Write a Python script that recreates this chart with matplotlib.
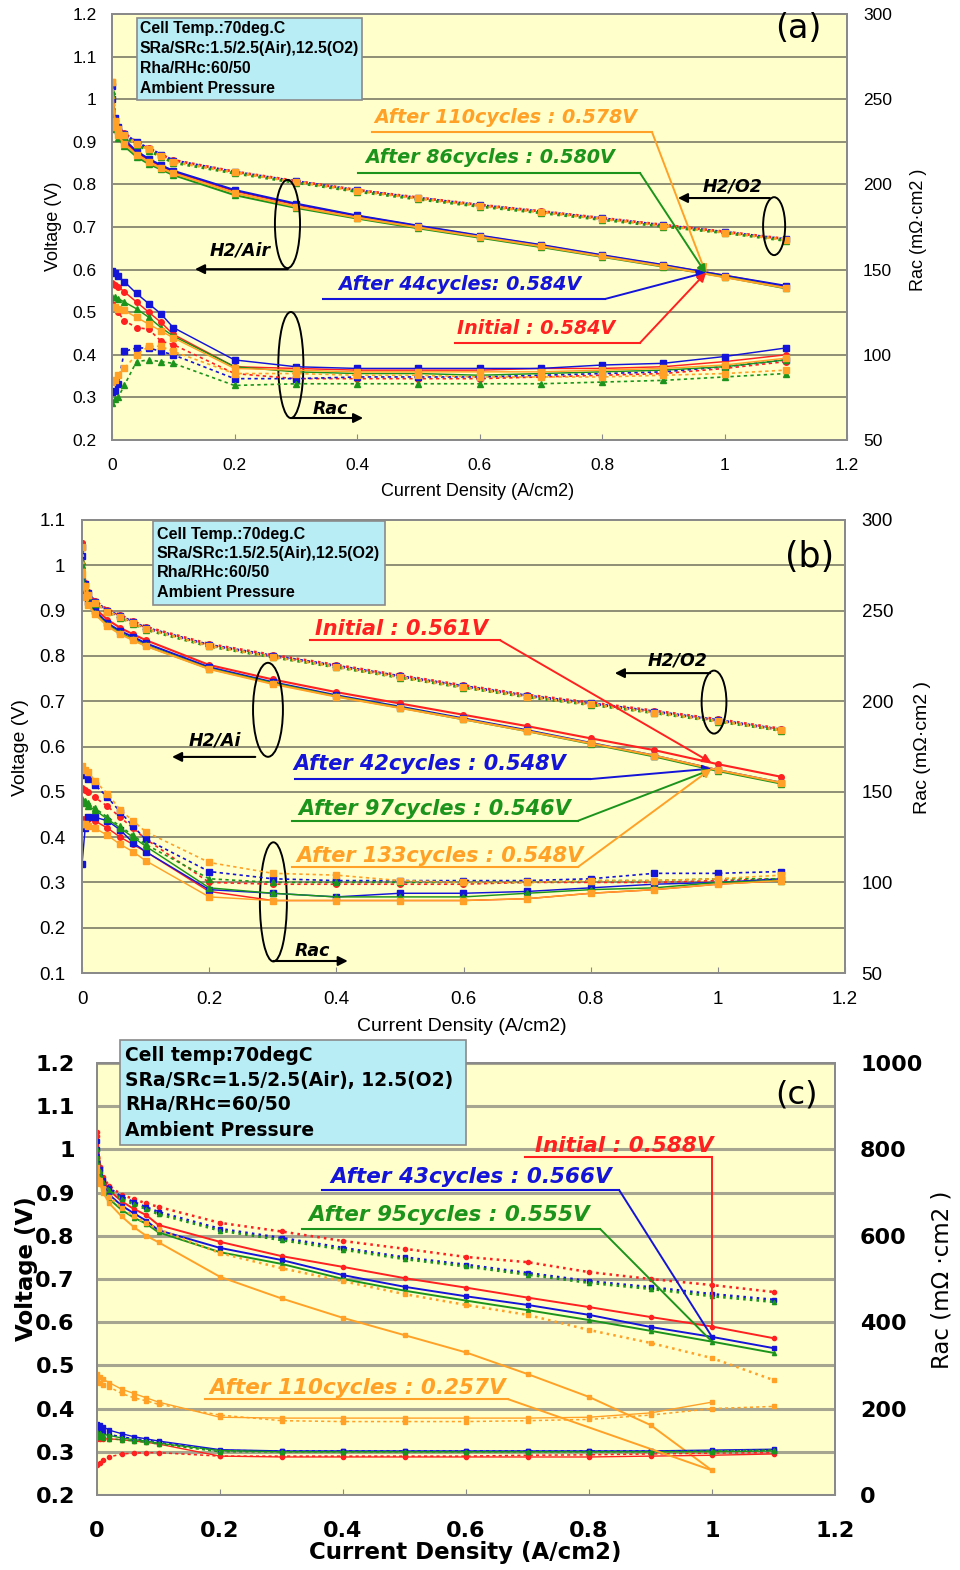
import numpy as np
import matplotlib
matplotlib.use("Agg")
import matplotlib.pyplot as plt
from matplotlib.patches import Ellipse, Rectangle
from matplotlib.ticker import FuncFormatter

plt.rcParams['font.family'] = ['DejaVu Sans']

# current density points (A/cm2), same for every run
current = [0, 0.005, 0.01, 0.02, 0.04, 0.06, 0.08, 0.1, 0.2, 0.3, 0.4, 0.5, 0.6, 0.7, 0.8, 0.9, 1.0, 1.1]

# (a) voltages (V): H2/Air and H2/O2, order = initial, 44, 86, 110 cycles
a_air_red = [1.03, 0.94, 0.92, 0.90, 0.875, 0.858, 0.843, 0.830, 0.785, 0.753, 0.726, 0.702, 0.679, 0.657, 0.633, 0.610, 0.586, 0.560]
a_air_blue = [1.00, 0.945, 0.925, 0.905, 0.878, 0.860, 0.845, 0.832, 0.787, 0.755, 0.727, 0.703, 0.680, 0.658, 0.634, 0.611, 0.586, 0.562]
a_air_green = [1.02, 0.930, 0.910, 0.890, 0.865, 0.848, 0.835, 0.822, 0.775, 0.745, 0.720, 0.697, 0.675, 0.653, 0.630, 0.607, 0.583, 0.556]
a_air_orange = [1.04, 0.935, 0.915, 0.895, 0.870, 0.852, 0.838, 0.826, 0.780, 0.748, 0.722, 0.699, 0.677, 0.655, 0.631, 0.608, 0.582, 0.557]
a_o2_red = [1.04, 0.955, 0.935, 0.920, 0.900, 0.885, 0.870, 0.857, 0.830, 0.808, 0.787, 0.769, 0.752, 0.737, 0.721, 0.705, 0.689, 0.672]
a_o2_blue = [1.03, 0.955, 0.935, 0.918, 0.899, 0.884, 0.870, 0.856, 0.829, 0.807, 0.786, 0.768, 0.751, 0.736, 0.720, 0.704, 0.688, 0.671]
a_o2_green = [1.01, 0.945, 0.928, 0.912, 0.893, 0.879, 0.865, 0.851, 0.826, 0.804, 0.783, 0.765, 0.748, 0.733, 0.717, 0.701, 0.686, 0.668]
a_o2_orange = [1.04, 0.950, 0.930, 0.915, 0.896, 0.882, 0.867, 0.853, 0.828, 0.806, 0.785, 0.767, 0.750, 0.735, 0.719, 0.703, 0.687, 0.670]
# (a) Rac (mOhm cm2)
a_rac_air_red = [142, 141, 140, 137, 131, 125, 119, 112, 93, 92, 91, 91, 91, 92, 92, 93, 96, 100]
a_rac_air_blue = [149, 148, 146, 143, 136, 130, 124, 116, 97, 93, 92, 92, 92, 92, 94, 95, 99, 104]
a_rac_air_green = [134, 134, 133, 131, 127, 122, 116, 111, 93, 90, 89, 89, 88, 89, 90, 91, 93, 97]
a_rac_air_orange = [128, 128, 127, 126, 122, 118, 114, 110, 92, 91, 90, 90, 90, 90, 91, 92, 94, 98]
a_rac_o2_red = [130, 128, 125, 120, 116, 115, 108, 106, 89, 86, 86, 86, 86, 87, 88, 89, 92, 96]
a_rac_o2_blue = [78, 79, 83, 102, 104, 104, 102, 100, 86, 86, 87, 87, 87, 88, 89, 90, 93, 97]
a_rac_o2_green = [72, 74, 75, 82, 96, 97, 96, 95, 82, 83, 83, 83, 83, 83, 84, 85, 87, 89]
a_rac_o2_orange = [84, 85, 88, 92, 100, 105, 105, 102, 89, 89, 88, 88, 87, 87, 87, 88, 89, 91]

# (b) initial, 42, 97, 133 cycles
b_air_red = [1.05, 0.950, 0.925, 0.905, 0.880, 0.862, 0.848, 0.835, 0.780, 0.748, 0.720, 0.695, 0.670, 0.645, 0.618, 0.592, 0.561, 0.533]
b_air_blue = [1.02, 0.940, 0.920, 0.900, 0.872, 0.855, 0.842, 0.828, 0.775, 0.742, 0.713, 0.688, 0.662, 0.636, 0.608, 0.580, 0.548, 0.520]
b_air_green = [1.00, 0.935, 0.915, 0.895, 0.868, 0.850, 0.837, 0.823, 0.772, 0.740, 0.711, 0.686, 0.660, 0.634, 0.606, 0.578, 0.546, 0.518]
b_air_orange = [0.98, 0.930, 0.912, 0.893, 0.866, 0.848, 0.835, 0.822, 0.771, 0.738, 0.710, 0.685, 0.660, 0.634, 0.607, 0.580, 0.548, 0.520]
b_o2_red = [1.05, 0.960, 0.940, 0.922, 0.902, 0.890, 0.877, 0.864, 0.826, 0.802, 0.780, 0.757, 0.735, 0.714, 0.697, 0.679, 0.660, 0.639]
b_o2_blue = [1.04, 0.958, 0.938, 0.920, 0.900, 0.888, 0.875, 0.862, 0.824, 0.800, 0.778, 0.755, 0.733, 0.712, 0.695, 0.677, 0.658, 0.637]
b_o2_green = [1.01, 0.952, 0.932, 0.915, 0.896, 0.884, 0.871, 0.858, 0.821, 0.797, 0.775, 0.752, 0.730, 0.709, 0.692, 0.674, 0.655, 0.635]
b_o2_orange = [1.04, 0.955, 0.935, 0.917, 0.898, 0.886, 0.873, 0.860, 0.822, 0.798, 0.776, 0.753, 0.731, 0.710, 0.693, 0.675, 0.656, 0.636]
b_rac_air_red = [135, 135, 135, 134, 130, 125, 121, 117, 95, 90, 90, 90, 90, 91, 94, 96, 99, 101]
b_rac_air_blue = [110, 130, 136, 136, 134, 129, 122, 117, 96, 94, 92, 94, 94, 95, 97, 99, 100, 102]
b_rac_air_green = [145, 144, 142, 140, 135, 130, 125, 120, 97, 94, 92, 92, 92, 94, 96, 97, 100, 101]
b_rac_air_orange = [132, 132, 131, 130, 126, 121, 117, 112, 92, 90, 90, 90, 90, 91, 94, 96, 99, 101]
b_rac_o2_red = [152, 151, 150, 147, 142, 136, 130, 124, 100, 99, 99, 99, 99, 100, 100, 100, 101, 102]
b_rac_o2_blue = [160, 159, 157, 154, 147, 139, 131, 124, 106, 102, 101, 101, 101, 101, 102, 105, 105, 106]
b_rac_o2_green = [146, 145, 144, 141, 136, 131, 126, 121, 102, 100, 100, 100, 100, 100, 101, 101, 102, 102]
b_rac_o2_orange = [164, 162, 161, 156, 149, 140, 134, 128, 111, 105, 104, 101, 100, 100, 101, 101, 102, 104]

# (c) initial, 43, 95, 110 cycles
c_air_red = [1.04, 0.960, 0.930, 0.905, 0.880, 0.862, 0.848, 0.825, 0.786, 0.753, 0.728, 0.702, 0.680, 0.657, 0.635, 0.612, 0.590, 0.563]
c_air_blue = [1.00, 0.950, 0.920, 0.895, 0.870, 0.852, 0.835, 0.813, 0.772, 0.744, 0.709, 0.682, 0.660, 0.640, 0.617, 0.589, 0.566, 0.540]
c_air_green = [0.98, 0.940, 0.910, 0.885, 0.860, 0.842, 0.828, 0.808, 0.762, 0.735, 0.700, 0.673, 0.650, 0.628, 0.605, 0.580, 0.555, 0.529]
c_air_orange = [0.96, 0.920, 0.900, 0.875, 0.845, 0.820, 0.800, 0.785, 0.705, 0.655, 0.610, 0.570, 0.530, 0.480, 0.427, 0.362, 0.257, np.nan]
c_o2_red = [1.03, 0.960, 0.935, 0.915, 0.895, 0.885, 0.875, 0.867, 0.830, 0.810, 0.788, 0.770, 0.751, 0.739, 0.716, 0.700, 0.686, 0.670]
c_o2_blue = [1.02, 0.955, 0.930, 0.910, 0.890, 0.878, 0.866, 0.855, 0.816, 0.795, 0.772, 0.750, 0.733, 0.714, 0.695, 0.681, 0.665, 0.652]
c_o2_green = [1.00, 0.950, 0.925, 0.905, 0.885, 0.873, 0.862, 0.850, 0.812, 0.790, 0.768, 0.746, 0.729, 0.710, 0.691, 0.677, 0.660, 0.647]
c_o2_orange = [0.95, 0.930, 0.910, 0.890, 0.865, 0.845, 0.830, 0.815, 0.760, 0.725, 0.695, 0.665, 0.640, 0.617, 0.582, 0.552, 0.517, 0.466]
c_rac_air_red = [130, 130, 130, 130, 128, 125, 122, 118, 90, 88, 88, 88, 88, 88, 88, 90, 92, 95]
c_rac_air_blue = [165, 162, 158, 150, 142, 135, 130, 125, 105, 102, 102, 102, 102, 102, 102, 102, 104, 106]
c_rac_air_green = [145, 143, 140, 138, 132, 128, 125, 120, 103, 100, 100, 100, 100, 100, 100, 100, 100, 102]
c_rac_air_orange = [280, 272, 268, 260, 245, 235, 225, 215, 180, 178, 178, 178, 178, 178, 180, 190, 215, np.nan]
c_rac_o2_red = [70, 75, 80, 88, 95, 97, 98, 98, 90, 90, 90, 90, 90, 92, 93, 95, 97, 98]
c_rac_o2_blue = [155, 150, 145, 140, 135, 130, 128, 122, 103, 102, 102, 102, 102, 102, 102, 102, 102, 103]
c_rac_o2_green = [135, 135, 133, 130, 128, 125, 122, 118, 100, 100, 100, 100, 100, 100, 100, 100, 102, 104]
c_rac_o2_orange = [265, 260, 255, 250, 235, 225, 218, 210, 185, 172, 170, 170, 170, 172, 175, 185, 200, 205]

info_ab = ["Cell Temp.:70deg.C", "SRa/SRc:1.5/2.5(Air),12.5(O2)", "Rha/RHc:60/50", "Ambient Pressure"]
info_c = ["Cell temp:70degC", "SRa/SRc=1.5/2.5(Air), 12.5(O2)", "RHa/RHc=60/50", "Ambient Pressure"]

RED = '#ff2020'
BLUE = '#1414d8'
GREEN = '#1c941c'
ORANGE = '#ffa126'
COLORS = [RED, BLUE, GREEN, ORANGE]
MARKERS = ['o', 's', '^', 's']
BG = '#ffffcc'
BOX = '#b9edf6'
SPINE = '#8a8a8a'
LIB = 'Liberation Sans'

fig = plt.figure(figsize=(9.6, 15.7), dpi=100)
fmt = FuncFormatter(lambda v, p: f"{round(v, 2):g}")


def panel(rect, vlim, rlim, rstep, font, size, weight, pads, grid_color, grid_lw):
    ax = fig.add_axes(rect)
    ax.set_facecolor(BG)
    ax.set_xlim(0, 1.2)
    ax.set_ylim(vlim)
    ax.set_xticks(np.arange(0, 1.21, 0.2))
    ax.set_yticks(np.arange(vlim[0], vlim[1] + 0.01, 0.1))
    ax.xaxis.set_major_formatter(fmt)
    ax.yaxis.set_major_formatter(fmt)
    ax.grid(axis='y', color=grid_color, lw=grid_lw)
    ax.set_axisbelow(True)
    ax.tick_params(axis='x', direction='in', length=4, color=SPINE, pad=pads[0])
    ax.tick_params(axis='y', length=0, pad=pads[1])
    rax = ax.twinx()
    rax.set_ylim(rlim)
    rax.set_yticks(np.arange(rlim[0], rlim[1] + 1, rstep))
    rax.tick_params(axis='y', length=0, pad=pads[2])
    for a in (ax, rax):
        for s in a.spines.values():
            s.set_color(SPINE)
            s.set_linewidth(1.4)
    for lab in ax.get_xticklabels() + ax.get_yticklabels() + rax.get_yticklabels():
        lab.set_fontfamily(font)
        lab.set_fontsize(size)
        lab.set_fontweight(weight)
    return ax, rax


def draw_runs(ax, rax, v_air, v_o2, r_air, r_o2, ms, lw):
    for va, vo, ra, ro, c, m in zip(v_air, v_o2, r_air, r_o2, COLORS, MARKERS):
        rax.plot(current, ra, color=c, lw=lw * 0.7, marker=m, ms=ms)
        rax.plot(current, ro, color=c, lw=lw * 0.8, ls=(0, (2, 2)), marker=m, ms=ms)
        ax.plot(current, vo, color=c, lw=lw * 1.3, ls=':', marker=m, ms=ms)
        ax.plot(current, va, color=c, lw=lw, marker=m, ms=ms)


def info_box(rax, lines, x0, x1, y0, y1, xt, ys, font, size):
    rax.add_patch(Rectangle((x0, y0), x1 - x0, y1 - y0, transform=rax.transAxes, fc=BOX,
                            ec=SPINE, lw=1.2, clip_on=False, zorder=5))
    for line, y in zip(lines, ys):
        rax.text(xt, y, line, transform=rax.transAxes, fontfamily=font, fontsize=size,
                 fontweight='bold', va='center', ha='left', zorder=6)


def callout(ax, rax, text, color, size, text_xy, x0, x1, y_line, target, head=True):
    rax.text(text_xy[0], text_xy[1], text, transform=ax.transData, color=color, fontsize=size,
             fontweight='bold', style='italic', ha='center', va='center')
    rax.plot([x0, x1], [y_line, y_line], color=color, lw=1.5, transform=ax.transData)
    rax.annotate('', xy=target, xytext=(x1, y_line), xycoords=ax.transData,
                 arrowprops=dict(arrowstyle='-|>' if head else '-', color=color, lw=1.4,
                                 mutation_scale=13, shrinkA=0, shrinkB=0))


def ring(ax, rax, xy, w, h):
    rax.add_patch(Ellipse(xy, w, h, transform=ax.transData, fill=False, ec='black', lw=1.4))


def pointer(ax, rax, label, label_xy, start, end, size):
    rax.annotate('', xy=end, xytext=start, xycoords=ax.transData,
                 arrowprops=dict(arrowstyle='-|>', color='black', lw=1.5, mutation_scale=14,
                                 shrinkA=0, shrinkB=0))
    rax.text(label_xy[0], label_xy[1], label, transform=ax.transData, fontsize=size,
             fontweight='bold', style='italic', ha='center', va='center')


def axis_labels(ax, rax, font, size, weight, rac_label, xpos, ypos, rpos, rweight):
    ax.set_xlabel('Current Density (A/cm2)', fontfamily=font, fontsize=size, fontweight=weight, va='center')
    ax.xaxis.set_label_coords(*xpos)
    ax.set_ylabel('Voltage (V)', fontfamily=font, fontsize=size, fontweight=weight, va='center', ha='center')
    ax.yaxis.set_label_coords(*ypos)
    rax.set_ylabel(rac_label, fontfamily=font, fontsize=size, fontweight=rweight, va='center',
                   ha='center', rotation=90)
    rax.yaxis.set_label_coords(*rpos)


# ---------------- (a) ----------------
ax_a, r_a = panel([112 / 960, 1 - 440 / 1570, 735 / 960, 426 / 1570], (0.2, 1.2), (50, 300), 50,
                  LIB, 12.5, 'normal', (13, 11, 11.5), '#7c7c66', 1.2)
draw_runs(ax_a, r_a,
          [a_air_red, a_air_blue, a_air_green, a_air_orange],
          [a_o2_red, a_o2_blue, a_o2_green, a_o2_orange],
          [a_rac_air_red, a_rac_air_blue, a_rac_air_green, a_rac_air_orange],
          [a_rac_o2_red, a_rac_o2_blue, a_rac_o2_green, a_rac_o2_orange], 4, 1.5)
axis_labels(ax_a, r_a, LIB, 13, 'normal', 'Rac (mΩ·cm2 )', (0.498, -0.12), (-0.079, 0.502),
            (1.097, 0.493), 'normal')
info_box(r_a, info_ab, 0.034, 0.340, 0.798, 0.991, 0.038, [0.965, 0.918, 0.871, 0.824], LIB, 11.3)
r_a.text(1.12, 1.167, '(a)', transform=ax_a.transData, fontsize=24, ha='center', va='center')

tx = 0.97
callout(ax_a, r_a, 'After 110cycles : 0.578V', ORANGE, 13.8, (0.643, 0.958), 0.4245, 0.8816, 0.923,
        (tx, np.interp(tx, current, a_air_orange)))
callout(ax_a, r_a, 'After 86cycles : 0.580V', GREEN, 13.8, (0.617, 0.862), 0.4016, 0.862, 0.827,
        (tx, np.interp(tx, current, a_air_green)))
callout(ax_a, r_a, 'After 44cycles: 0.584V', BLUE, 13.8, (0.568, 0.566), 0.3445, 0.805, 0.531,
        (tx, np.interp(tx, current, a_air_blue)))
callout(ax_a, r_a, 'Initial : 0.584V', RED, 13.8, (0.692, 0.461), 0.56, 0.862, 0.428,
        (tx, np.interp(tx, current, a_air_red)))
ring(ax_a, r_a, (1.081, 0.702), 0.036, 0.136)
pointer(ax_a, r_a, 'H2/O2', (1.014, 0.794), (1.074, 0.768), (0.924, 0.768), 12.5)
ring(ax_a, r_a, (0.2865, 0.707), 0.041, 0.207)
pointer(ax_a, r_a, 'H2/Air', (0.209, 0.644), (0.287, 0.601), (0.1355, 0.601), 12.5)
ring(ax_a, r_a, (0.292, 0.376), 0.041, 0.249)
pointer(ax_a, r_a, 'Rac', (0.356, 0.272), (0.292, 0.2516), (0.41, 0.2516), 12.5)

# ---------------- (b) ----------------
ax_b, r_b = panel([82 / 960, 1 - 973 / 1570, 763 / 960, 453 / 1570], (0.1, 1.1), (50, 300), 50,
                  LIB, 13.5, 'normal', (13, 12, 12), '#7c7c66', 1.2)
draw_runs(ax_b, r_b,
          [b_air_red, b_air_blue, b_air_green, b_air_orange],
          [b_o2_red, b_o2_blue, b_o2_green, b_o2_orange],
          [b_rac_air_red, b_rac_air_blue, b_rac_air_green, b_rac_air_orange],
          [b_rac_o2_red, b_rac_o2_blue, b_rac_o2_green, b_rac_o2_orange], 4, 1.5)
axis_labels(ax_b, r_b, LIB, 14, 'normal', 'Rac (mΩ·cm2 )', (0.498, -0.119), (-0.081, 0.497),
            (1.101, 0.497), 'normal')
info_box(r_b, info_ab, 0.093, 0.397, 0.812, 0.998, 0.098, [0.969, 0.927, 0.885, 0.841], LIB, 11.6)
r_b.text(1.145, 1.018, '(b)', transform=ax_b.transData, fontsize=25, ha='center', va='center')

tx = 0.99
callout(ax_b, r_b, 'Initial : 0.561V', RED, 15, (0.503, 0.859), 0.3586, 0.657, 0.835,
        (tx, np.interp(tx, current, b_air_red)))
callout(ax_b, r_b, 'After 42cycles : 0.548V', BLUE, 15, (0.547, 0.561), 0.335, 0.799, 0.528,
        (tx, np.interp(tx, current, b_air_blue)))
callout(ax_b, r_b, 'After 97cycles : 0.546V', GREEN, 15, (0.554, 0.462), 0.330, 0.780, 0.436,
        (tx, np.interp(tx, current, b_air_green)))
callout(ax_b, r_b, 'After 133cycles : 0.548V', ORANGE, 15, (0.563, 0.358), 0.330, 0.780, 0.334,
        (tx, np.interp(tx, current, b_air_orange)))
ring(ax_b, r_b, (0.994, 0.698), 0.039, 0.139)
pointer(ax_b, r_b, 'H2/O2', (0.936, 0.789), (0.988, 0.762), (0.838, 0.762), 12.5)
ring(ax_b, r_b, (0.2925, 0.681), 0.047, 0.2075)
pointer(ax_b, r_b, 'H2/Ai', (0.209, 0.614), (0.2725, 0.577), (0.1416, 0.577), 12.5)
ring(ax_b, r_b, (0.301, 0.257), 0.0425, 0.263)
pointer(ax_b, r_b, 'Rac', (0.363, 0.149), (0.301, 0.1265), (0.418, 0.1265), 12.5)

# ---------------- (c) ----------------
ax_c, r_c = panel([97 / 960, 1 - 1495 / 1570, 738 / 960, 432 / 1570], (0.2, 1.2), (0, 1000), 200,
                  'DejaVu Sans', 16, 'bold', (19, 16, 18), '#a6a690', 2.2)
draw_runs(ax_c, r_c,
          [c_air_red, c_air_blue, c_air_green, c_air_orange],
          [c_o2_red, c_o2_blue, c_o2_green, c_o2_orange],
          [c_rac_air_red, c_rac_air_blue, c_rac_air_green, c_rac_air_orange],
          [c_rac_o2_red, c_rac_o2_blue, c_rac_o2_green, c_rac_o2_orange], 3, 1.4)
axis_labels(ax_c, r_c, 'DejaVu Sans', 16.5, 'bold', 'Rac (mΩ ·cm2 )', (0.499, -0.134),
            (-0.095, 0.525), (1.145, 0.498), 'normal')
info_box(r_c, info_c, 0.031, 0.5, 0.810, 1.053, 0.038, [1.0185, 0.9606, 0.9028, 0.8426],
         'DejaVu Sans', 13.5)
r_c.text(1.138, 1.126, '(c)', transform=ax_c.transData, fontsize=23, ha='center', va='center')

i1 = current.index(1.0)
callout(ax_c, r_c, 'Initial : 0.588V', RED, 15.5, (0.858, 1.008), 0.696, 1.0, 0.982,
        (1.0, c_air_red[i1]), head=False)
callout(ax_c, r_c, 'After 43cycles : 0.566V', BLUE, 15.5, (0.608, 0.936), 0.366, 0.849, 0.906,
        (1.0, c_air_blue[i1]), head=False)
callout(ax_c, r_c, 'After 95cycles : 0.555V', GREEN, 15.5, (0.572, 0.848), 0.333, 0.818, 0.816,
        (1.0, c_air_green[i1]), head=False)
callout(ax_c, r_c, 'After 110cycles : 0.257V', ORANGE, 15.5, (0.424, 0.448), 0.1756, 0.668, 0.422,
        (1.0, c_air_orange[i1]), head=False)

plt.savefig('out.png', dpi=100)
